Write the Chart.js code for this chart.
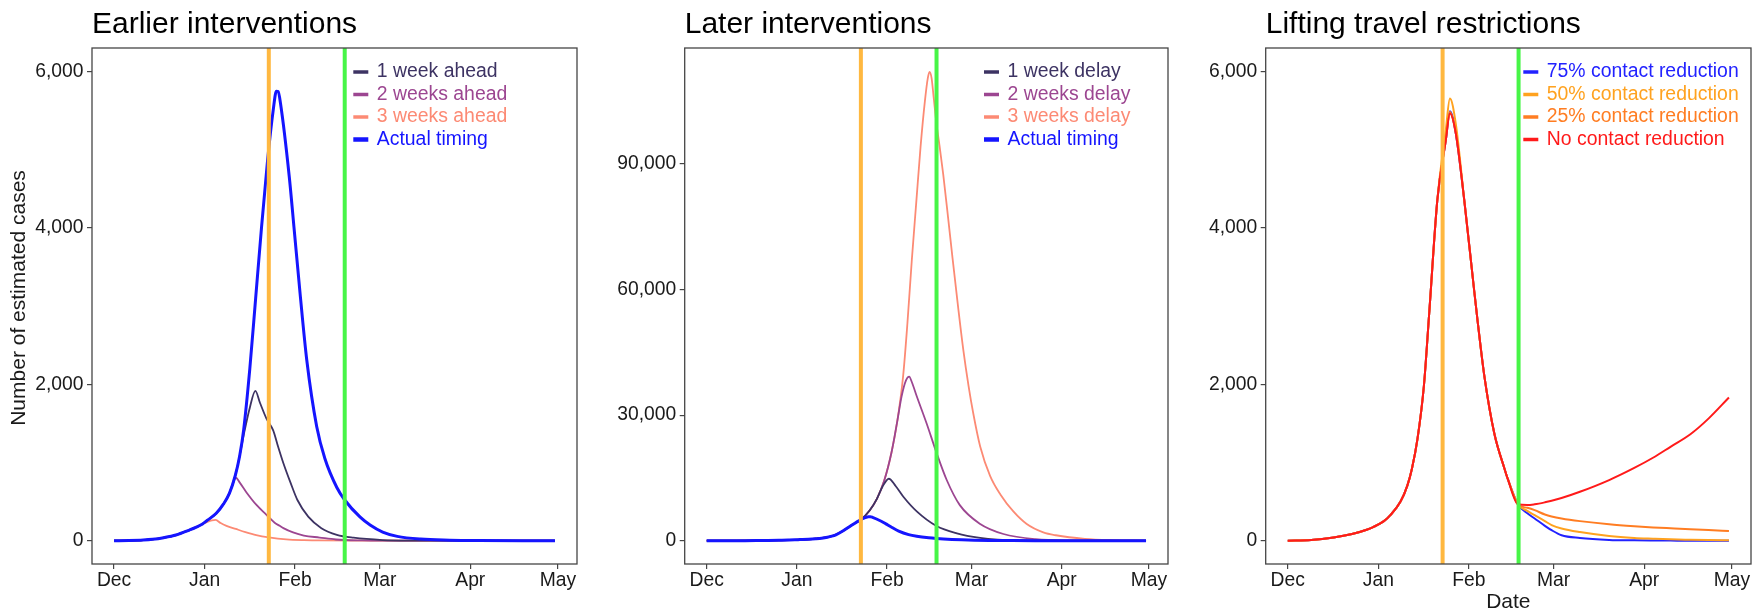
<!DOCTYPE html>
<html>
<head>
<meta charset="utf-8">
<title>Intervention timing scenarios</title>
<script src="https://cdn.jsdelivr.net/npm/chart.js@4.4.1/dist/chart.umd.min.js"></script>
<style>
  html, body { margin: 0; padding: 0; background: #fff; }
  #wrap { position: relative; width: 1760px; height: 615px; overflow: hidden; background: #fff; }
  .panel { position: absolute; top: 0; height: 615px; }
</style>
</head>
<body>
<div id="wrap">
  <div class="panel" style="left:0;width:590px"><canvas id="earlier" width="590" height="615"></canvas></div>
  <div class="panel" style="left:590px;width:590px"><canvas id="later" width="590" height="615"></canvas></div>
  <div class="panel" style="left:1180px;width:580px"><canvas id="lifting" width="580" height="615"></canvas></div>
</div>
<script>
// ============================================================
// DATA  (x = days since 1 Dec, y = estimated cases)
// ============================================================
const monthTicks  = [0, 31, 62, 91, 122, 152];
const monthLabels = ['Dec', 'Jan', 'Feb', 'Mar', 'Apr', 'May'];
const smallCaseTicks = [0, 2000, 4000, 6000];
const largeCaseTicks = [0, 30000, 60000, 90000];
const interventionDays = [53, 79];   // travel ban (orange), lifting (green)

// actual timing, shared by the first two panels
const actualTiming = [[0,0],[5,2],[10,8],[13.2,17],[17,38],[21.2,72],[25.8,136],[28,170],[30.3,213],[32,262],[35,350],[37.5,470],[39.5,605],[41.5,830],[43,1080],[44.4,1420],[46.5,2200],[48.5,3100],[50.5,4000],[52.6,4870],[54.5,5500],[55.6,5745],[56.2,5740],[57,5590],[60,4655],[61.6,4015],[63.7,3165],[66,2310],[69.4,1460],[72.2,1050],[76.3,680],[79,520],[84.3,300],[87.7,200],[92,110],[97,55],[105,20],[115,7],[125,2],[140,0],[151,0]];

// earlier interventions
const oneWeekAhead = [[0,0],[5,2],[10,8],[13.2,17],[17,38],[21.2,72],[25.8,136],[28,170],[30.3,213],[32,262],[35,350],[37.5,470],[39.5,605],[41.5,830],[43,1080],[44.4,1350],[46.5,1700],[48.4,1915],[50,1760],[52.2,1560],[54.5,1410],[56.2,1200],[58,990],[60.5,735],[62.8,520],[66.5,307],[71,160],[76.3,75],[82,38],[92,8],[100,2],[151,0]];
const twoWeeksAhead = [[0,0],[5,2],[10,8],[13.2,17],[17,38],[21.2,72],[25.8,136],[28,170],[30.3,213],[32,262],[35,350],[37.5,470],[39.5,605],[40.6,720],[41.7,806],[43,745],[45.3,620],[48.7,460],[52.2,330],[55,230],[56.7,190],[58,160],[61.3,105],[65,65],[70.4,40],[76,15],[85,4],[100,0],[151,0]];
const threeWeeksAhead = [[0,0],[5,2],[10,8],[13.2,17],[17,38],[21.2,72],[25.8,136],[28,170],[30.3,213],[32,240],[33.5,258],[34.8,265],[36.5,225],[38.5,190],[41.7,150],[45,110],[48.7,72],[53,43],[59,17],[65,7],[70,4],[85,0],[151,0]];

// later interventions
const oneWeekDelay = [[0,0],[10,8],[21.2,72],[30.3,213],[37.5,470],[43,1080],[46.5,2200],[50.5,4000],[53,5000],[56,7200],[58.5,10000],[60.5,13000],[62.6,14800],[65,13000],[67.6,10500],[72.2,7000],[79,3500],[86,1750],[94,650],[100,250],[110,60],[125,5],[151,0]];
const twoWeeksDelay = [[0,0],[10,8],[21.2,72],[30.3,213],[37.5,470],[43,1080],[46.5,2200],[50.5,4000],[53,5000],[56,7200],[58.5,10000],[61,14300],[63.5,21000],[65.5,28500],[67,34500],[68.5,38300],[69.6,39200],[70.5,37900],[72.2,34500],[75.6,28000],[79,21000],[82.5,14500],[87,8500],[94,4000],[102,1600],[113,350],[125,60],[151,0]];
const threeWeeksDelay = [[0,0],[10,8],[21.2,72],[30.3,213],[37.5,470],[43,1080],[46.5,2200],[50.5,4000],[53,5000],[56,7200],[58.5,10000],[61,14300],[63.5,21000],[65.5,28500],[67.5,39200],[69,52000],[70.5,67000],[72,80500],[73.5,94000],[75,105000],[76,110500],[76.6,112000],[77.3,110500],[78,106000],[79,99500],[80,94500],[81.3,87500],[83,77000],[84.5,67500],[86.3,56500],[88.2,45600],[90,37000],[91.6,30500],[94,22500],[97.4,15500],[101,11000],[105.4,7000],[110,4000],[115.7,2000],[120,1300],[130,450],[140,150],[151,40]];

// lifting travel restrictions
const liftDays = [0, 8, 15.7, 22, 27, 29.4, 32.9, 35.2, 38.6, 40.9, 42.5, 44.4, 46.6, 48.4, 51.2, 54.1, 55.5, 57.5, 60.4, 63.5, 65, 67.3, 70.7, 74.1, 75.3, 78.8, 82, 84.5, 88, 90.3, 93.7, 100, 110, 118.6, 125, 131, 137.8, 144, 151];
const reduction75 = [0, 8, 40, 85, 140, 177, 250, 330, 500, 700, 920, 1300, 1980, 2900, 4355, 5120, 5490, 5210, 4355, 3300, 2800, 2100, 1370, 930, 790, 465, 350, 284, 190, 134, 70, 35, 10, 4, 2, 1, 0, 0, 0];
const reduction50 = [0, 8, 40, 85, 140, 177, 250, 330, 500, 700, 920, 1300, 1980, 2900, 4355, 5250, 5650, 5330, 4355, 3300, 2800, 2100, 1370, 930, 790, 465, 380, 326, 250, 200, 156, 110, 60, 35, 25, 17, 12, 8, 5];
const reduction25 = [0, 8, 40, 85, 140, 177, 250, 330, 500, 700, 920, 1300, 1980, 2900, 4355, 5120, 5480, 5210, 4355, 3300, 2800, 2100, 1370, 930, 790, 465, 420, 390, 335, 310, 284, 250, 210, 185, 170, 158, 145, 135, 125];
const noReduction = [0, 8, 40, 85, 140, 177, 250, 330, 500, 700, 920, 1300, 1980, 2900, 4355, 5120, 5460, 5210, 4355, 3300, 2800, 2100, 1370, 930, 790, 465, 455, 465, 490, 510, 545, 625, 775, 930, 1060, 1200, 1360, 1560, 1830];

// ============================================================
// HELPERS
// ============================================================
const FONT = '"Liberation Sans", Arial, sans-serif';
const TEXT = '#1a1a1a';
const AXIS = '#454545';

function pairsToPoints(pairs) {
  return pairs.map(([x, y]) => ({ x, y }));
}

function zipPoints(xs, ys) {
  return xs.map((x, i) => ({ x, y: ys[i] }));
}

function lineSet(label, points, color, width, order) {
  return {
    label, data: points, borderColor: color, borderWidth: width, order,
    pointRadius: 0, fill: false, cubicInterpolationMode: 'monotone'
  };
}

// panel title, intervention lines, frame, inset legend, y title (ggplot look)
const panelDecor = {
  id: 'panelDecor',
  afterDatasetsDraw(chart, args, opts) {
    const { ctx, chartArea: a, scales: { x } } = chart;
    const vlineColors = ['#ffb840', '#47f547'];

    ctx.save();
    ctx.beginPath();
    ctx.rect(a.left, a.top, a.right - a.left, a.bottom - a.top);
    ctx.clip();
    interventionDays.forEach((d, i) => {
      const px = x.getPixelForValue(d);
      ctx.strokeStyle = vlineColors[i];
      ctx.lineWidth = 4;
      ctx.beginPath();
      ctx.moveTo(px, a.top);
      ctx.lineTo(px, a.bottom);
      ctx.stroke();
    });
    ctx.restore();

    ctx.save();
    ctx.strokeStyle = AXIS;
    ctx.lineWidth = 1.3;
    ctx.strokeRect(a.left, a.top, a.right - a.left, a.bottom - a.top);

    const keyX = a.left + opts.legendX;
    ctx.font = '19.4px ' + FONT;
    ctx.textAlign = 'left';
    ctx.textBaseline = 'middle';
    opts.legend.forEach((item, i) => {
      const y = a.top + 24 + i * 22.5;
      ctx.strokeStyle = item.color;
      ctx.lineWidth = item.key;
      ctx.beginPath();
      ctx.moveTo(keyX, y);
      ctx.lineTo(keyX + 15, y);
      ctx.stroke();
      ctx.fillStyle = item.color;
      ctx.fillText(item.text, keyX + 23.5, y);
    });

    ctx.font = '30px ' + FONT;
    ctx.fillStyle = '#000';
    ctx.textBaseline = 'alphabetic';
    ctx.fillText(opts.title, a.left, 33.3);

    if (opts.yTitle) {
      ctx.translate(19, 298);
      ctx.rotate(-Math.PI / 2);
      ctx.font = '21px ' + FONT;
      ctx.fillStyle = TEXT;
      ctx.textAlign = 'center';
      ctx.textBaseline = 'middle';
      ctx.fillText(opts.yTitle, 0, 0);
    }
    ctx.restore();
  }
};

function buildPanel(canvasId, cfg) {
  return new Chart(document.getElementById(canvasId), {
    type: 'line',
    data: { datasets: cfg.datasets },
    options: {
      responsive: false,
      animation: false,
      events: [],
      layout: { padding: { left: 0, right: cfg.padRight, top: 48, bottom: 0 } },
      plugins: {
        legend: { display: false },
        tooltip: { enabled: false },
        title: { display: false },
        panelDecor: { title: cfg.title, yTitle: cfg.yTitle, legendX: cfg.legendX, legend: cfg.legend }
      },
      scales: {
        x: {
          type: 'linear',
          min: -7.55,
          max: 158.55,
          afterBuildTicks: s => { s.ticks = monthTicks.map(v => ({ value: v })); },
          afterFit: s => { s.height = 51; },
          border: { display: false },
          grid: { drawOnChartArea: false, drawTicks: true, tickLength: 5, color: AXIS, lineWidth: 1.2 },
          ticks: {
            autoSkip: false, maxRotation: 0, padding: 0, color: TEXT,
            font: { family: FONT, size: 19.3 },
            callback: v => monthLabels[monthTicks.indexOf(v)]
          },
          title: cfg.xTitle
            ? { display: true, text: cfg.xTitle, color: TEXT, font: { family: FONT, size: 21 }, padding: { top: 0, bottom: 0 } }
            : { display: false }
        },
        y: {
          type: 'linear',
          min: cfg.yMin,
          max: cfg.yMax,
          afterBuildTicks: s => { s.ticks = cfg.yTicks.map(v => ({ value: v })); },
          afterFit: s => { s.width = cfg.axisWidth; },
          border: { display: false },
          grid: { drawOnChartArea: false, drawTicks: true, tickLength: 5, color: AXIS, lineWidth: 1.2 },
          ticks: {
            padding: 3.5, color: TEXT,
            font: { family: FONT, size: 19.3 },
            callback: v => v.toLocaleString('en-US')
          },
          title: { display: false }
        }
      }
    },
    plugins: [panelDecor]
  });
}

// ============================================================
// PANELS
// ============================================================
const C1 = '#3d3363', C2 = '#9c4691', C3 = '#fc8a74', CA = '#1515ff';

buildPanel('earlier', {
  title: 'Earlier interventions',
  yTitle: 'Number of estimated cases',
  axisWidth: 92, padRight: 13, legendX: 261.3,
  yMin: -298, yMax: 6297, yTicks: smallCaseTicks,
  datasets: [
    lineSet('Actual timing', pairsToPoints(actualTiming), CA, 3, 0),
    lineSet('1 week ahead', pairsToPoints(oneWeekAhead), C1, 1.8, 1),
    lineSet('2 weeks ahead', pairsToPoints(twoWeeksAhead), C2, 1.8, 2),
    lineSet('3 weeks ahead', pairsToPoints(threeWeeksAhead), C3, 1.8, 3)
  ],
  legend: [
    { text: '1 week ahead', color: C1, key: 3.5 },
    { text: '2 weeks ahead', color: C2, key: 3.5 },
    { text: '3 weeks ahead', color: C3, key: 3.5 },
    { text: 'Actual timing', color: CA, key: 4.5 }
  ]
});

buildPanel('later', {
  title: 'Later interventions',
  axisWidth: 94.7, padRight: 12, legendX: 299.3,
  yMin: -5565, yMax: 117684, yTicks: largeCaseTicks,
  datasets: [
    lineSet('Actual timing', pairsToPoints(actualTiming), CA, 3, 0),
    lineSet('1 week delay', pairsToPoints(oneWeekDelay), C1, 1.8, 1),
    lineSet('2 weeks delay', pairsToPoints(twoWeeksDelay), C2, 1.8, 2),
    lineSet('3 weeks delay', pairsToPoints(threeWeeksDelay), C3, 1.8, 3)
  ],
  legend: [
    { text: '1 week delay', color: C1, key: 3.5 },
    { text: '2 weeks delay', color: C2, key: 3.5 },
    { text: '3 weeks delay', color: C3, key: 3.5 },
    { text: 'Actual timing', color: CA, key: 4.5 }
  ]
});

const L75 = '#2222ff', L50 = '#ffa21f', L25 = '#ff7d22', L0 = '#ff1a1a';

buildPanel('lifting', {
  title: 'Lifting travel restrictions',
  xTitle: 'Date',
  axisWidth: 85.7, padRight: 9, legendX: 257.6,
  yMin: -298, yMax: 6297, yTicks: smallCaseTicks,
  datasets: [
    lineSet('No contact reduction', zipPoints(liftDays, noReduction), L0, 2, 0),
    lineSet('25% contact reduction', zipPoints(liftDays, reduction25), L25, 2, 1),
    lineSet('50% contact reduction', zipPoints(liftDays, reduction50), L50, 2, 2),
    lineSet('75% contact reduction', zipPoints(liftDays, reduction75), L75, 2, 3)
  ],
  legend: [
    { text: '75% contact reduction', color: L75, key: 3.5 },
    { text: '50% contact reduction', color: L50, key: 3.5 },
    { text: '25% contact reduction', color: L25, key: 3.5 },
    { text: 'No contact reduction', color: L0, key: 3.5 }
  ]
});
</script>
</body>
</html>
